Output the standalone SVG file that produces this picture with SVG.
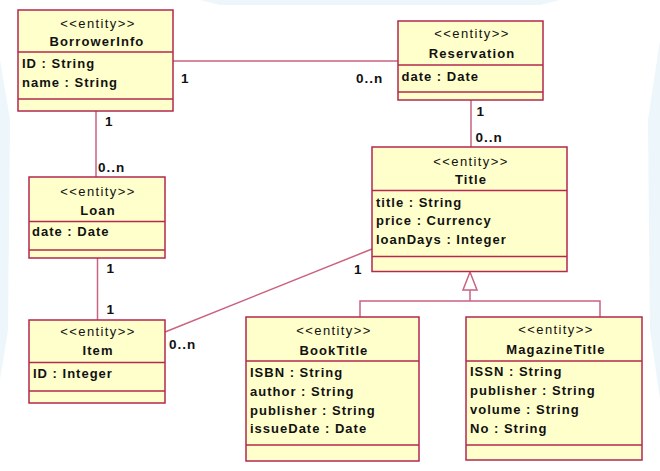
<svg xmlns="http://www.w3.org/2000/svg" width="660" height="471" viewBox="0 0 660 471">
<style>
.box{fill:#ffffcc;stroke:#b3294f;stroke-width:1.5}
.div{stroke:#b3294f;stroke-width:1.5}
.st{font-family:"Liberation Sans",Arial,sans-serif;font-size:13px;letter-spacing:1.4px;fill:#111;text-anchor:middle}
.nm{font-family:"Liberation Sans",Arial,sans-serif;font-size:13px;font-weight:bold;letter-spacing:1.1px;fill:#111;text-anchor:middle}
.at{font-family:"Liberation Sans",Arial,sans-serif;font-size:13px;font-weight:bold;letter-spacing:1px;fill:#111}
.lb{font-family:"Liberation Sans",Arial,sans-serif;font-size:13.5px;font-weight:bold;letter-spacing:1px;fill:#111}
.cn{stroke:#c9637f;stroke-width:1.5;fill:none}
</style>
<rect x="0" y="0" width="660" height="471" fill="#ffffff"/>
<g id="background" fill="#e6f3fa" opacity="0.7">
<polygon points="200,0 560,0 540,5 220,5"/>
<polygon points="0,60 10,120 8,330 0,380"/>
<polygon points="660,40 648,120 650,330 660,400"/>
</g>
<g id="connectors">
<line class="cn" x1="173" y1="61" x2="398" y2="61"/>
<line class="cn" x1="96" y1="111" x2="96" y2="177"/>
<line class="cn" x1="97.5" y1="258" x2="97.5" y2="320"/>
<line class="cn" x1="471" y1="100" x2="471" y2="147"/>
<line class="cn" x1="165" y1="332" x2="372" y2="249"/>
<polyline class="cn" points="360,317 360,301 600,301 600,317"/>
<line class="cn" x1="470" y1="290" x2="470" y2="301"/>
<polygon class="cn" fill="#ffffff" points="470,272 463,290 477,290"/>
<text class="lb" x="181" y="83">1</text>
<text class="lb" x="356" y="83">0..n</text>
<text class="lb" x="105" y="126">1</text>
<text class="lb" x="98" y="171.5">0..n</text>
<text class="lb" x="106.5" y="272.5">1</text>
<text class="lb" x="106.5" y="314">1</text>
<text class="lb" x="476.5" y="115.5">1</text>
<text class="lb" x="475.5" y="141.5">0..n</text>
<text class="lb" x="354" y="274">1</text>
<text class="lb" x="169" y="349">0..n</text>
</g>
<g id="BorrowerInfo">
<rect class="box" x="18" y="10" width="155" height="101"/>
<line class="div" x1="18" y1="52" x2="173" y2="52"/>
<line class="div" x1="18" y1="99" x2="173" y2="99"/>
<text class="st" x="98" y="28">&lt;&lt;entity&gt;&gt;</text>
<text class="nm" x="97" y="46">BorrowerInfo</text>
<text class="at" x="22" y="68">ID : String</text>
<text class="at" x="22" y="87">name : String</text>
</g>
<g id="Reservation">
<rect class="box" x="398" y="21" width="145" height="79"/>
<line class="div" x1="398" y1="65" x2="543" y2="65"/>
<line class="div" x1="398" y1="92" x2="543" y2="92"/>
<text class="st" x="472" y="38">&lt;&lt;entity&gt;&gt;</text>
<text class="nm" x="472" y="58">Reservation</text>
<text class="at" x="401.5" y="80.5">date : Date</text>
</g>
<g id="Loan">
<rect class="box" x="29" y="177" width="136" height="81"/>
<line class="div" x1="29" y1="221.5" x2="165" y2="221.5"/>
<line class="div" x1="29" y1="250" x2="165" y2="250"/>
<text class="st" x="98" y="196">&lt;&lt;entity&gt;&gt;</text>
<text class="nm" x="98" y="215">Loan</text>
<text class="at" x="32" y="236">date : Date</text>
</g>
<g id="Title">
<rect class="box" x="372" y="147" width="195" height="124.5"/>
<line class="div" x1="372" y1="190.5" x2="567" y2="190.5"/>
<line class="div" x1="372" y1="256.5" x2="567" y2="256.5"/>
<text class="st" x="471" y="166">&lt;&lt;entity&gt;&gt;</text>
<text class="nm" x="471" y="184">Title</text>
<text class="at" x="376" y="206.5">title : String</text>
<text class="at" x="376" y="225">price : Currency</text>
<text class="at" x="376" y="243.5">loanDays : Integer</text>
</g>
<g id="Item">
<rect class="box" x="29" y="320" width="136" height="83"/>
<line class="div" x1="29" y1="362.5" x2="165" y2="362.5"/>
<line class="div" x1="29" y1="391" x2="165" y2="391"/>
<text class="st" x="98" y="336">&lt;&lt;entity&gt;&gt;</text>
<text class="nm" x="98" y="355">Item</text>
<text class="at" x="33" y="378">ID : Integer</text>
</g>
<g id="BookTitle">
<rect class="box" x="246" y="317" width="173" height="144"/>
<line class="div" x1="246" y1="361" x2="419" y2="361"/>
<line class="div" x1="246" y1="445" x2="419" y2="445"/>
<text class="st" x="334" y="335">&lt;&lt;entity&gt;&gt;</text>
<text class="nm" x="334" y="355">BookTitle</text>
<text class="at" x="250" y="376.5">ISBN : String</text>
<text class="at" x="250" y="395.5">author : String</text>
<text class="at" x="250" y="414.5">publisher : String</text>
<text class="at" x="250" y="433">issueDate : Date</text>
</g>
<g id="MagazineTitle">
<rect class="box" x="466" y="317" width="176" height="143"/>
<line class="div" x1="466" y1="361" x2="642" y2="361"/>
<line class="div" x1="466" y1="445" x2="642" y2="445"/>
<text class="st" x="556" y="334">&lt;&lt;entity&gt;&gt;</text>
<text class="nm" x="556" y="354">MagazineTitle</text>
<text class="at" x="470" y="376">ISSN : String</text>
<text class="at" x="470" y="395">publisher : String</text>
<text class="at" x="470" y="413.5">volume : String</text>
<text class="at" x="470" y="432.5">No : String</text>
</g>
</svg>
